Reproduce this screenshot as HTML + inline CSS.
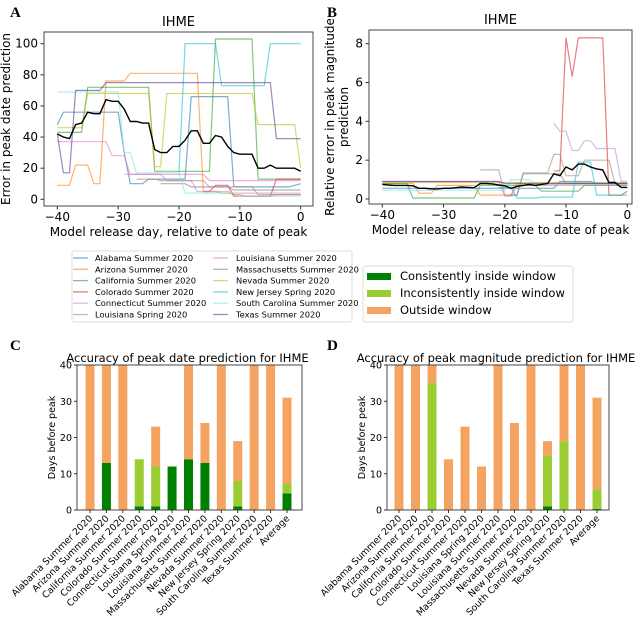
<!DOCTYPE html>
<html><head><meta charset="utf-8"><style>
body{margin:0;background:#fff;}
svg{display:block;font-family:"DejaVu Sans","Liberation Sans",sans-serif;}
</style></head><body>
<svg id="fig" width="643" height="621" viewBox="0 0 643 621" xmlns="http://www.w3.org/2000/svg">
<text x="10" y="17" font-family="Liberation Serif,serif" font-weight="bold" font-size="15">A</text>
<text x="327" y="17" font-family="Liberation Serif,serif" font-weight="bold" font-size="15">B</text>
<text x="10" y="350" font-family="Liberation Serif,serif" font-weight="bold" font-size="15">C</text>
<text x="327" y="350" font-family="Liberation Serif,serif" font-weight="bold" font-size="15">D</text>
<g id="gA"></g>
<g id="gB"></g>
<g id="legend1"></g>
<g id="legend2"></g>
<g id="gC"></g>
<g id="gD"></g>
</svg>
<script>
const days = [-40,-39,-38,-37,-36,-35,-34,-33,-32,-31,-30,-29,-28,-27,-26,-25,-24,-23,-22,-21,-20,-19,-18,-17,-16,-15,-14,-13,-12,-11,-10,-9,-8,-7,-6,-5,-4,-3,-2,-1,0];
const seriesNames = ["Alabama Summer 2020","Arizona Summer 2020","California Summer 2020","Colorado Summer 2020","Connecticut Summer 2020","Louisiana Spring 2020","Louisiana Summer 2020","Massachusetts Summer 2020","Nevada Summer 2020","New Jersey Spring 2020","South Carolina Summer 2020","Texas Summer 2020"];
const seriesColors = ["#1f77b4","#ff7f0e","#2ca02c","#d62728","#c58ccf","#a88a78","#e377c2","#7f7f7f","#bcbd22","#17becf","#7fe6e6","#5b3a8c"];
const N = null;
const alA = [48,56,56,56,56,56,56,56,56,56,56,30,10,10,10,13,13,13,13,13,13,13,66,66,66,66,66,66,66,8,8,8,8,8,8,8,8,8,8,9,10];
const azA = [9,9,9,22,22,22,10,10,76,76,76,76,81,81,81,81,81,81,81,81,81,81,81,81,5,5,5,4,4,3,3,2,2,2,2,2,3,3,3,3,3];
const caA = [43,43,43,43,43,72,72,72,72,72,72,72,72,72,72,72,18,18,18,18,18,18,18,18,18,18,103,103,103,103,103,103,103,13,13,13,13,13,13,13,13];
const coA = [N,N,N,N,N,N,N,N,N,N,N,N,N,N,N,N,N,N,N,N,N,N,N,N,5,5,9,9,9,2,2,2,2,2,2,2,13,13,13,13,13];
const ctA = [N,N,N,N,N,N,N,N,N,N,N,16,16,16,16,16,16,16,12,12,12,12,12,5,5,5,5,5,5,4,4,4,4,4,4,4,4,4,4,4,4];
const lspA = [N,N,N,N,N,N,N,N,N,N,N,N,N,13,13,13,13,12,12,12,12,12,12,12,12,8,8,8,8,8,8,8,8,3,3,3,3,3,3,3,3];
const lsuA = [37,37,37,37,37,37,37,37,37,28,28,28,16,16,16,16,16,16,16,16,16,16,16,16,16,12,12,12,12,12,12,12,12,12,12,12,12,12,12,12,12];
const maA = [N,N,N,N,N,N,N,N,N,N,N,N,N,N,N,N,N,10,10,10,10,10,8,8,8,8,8,8,8,6,6,6,6,6,6,6,6,6,6,6,6];
const nvA = [46,46,46,46,46,68,68,68,68,68,68,68,68,68,68,68,21,21,68,68,68,68,68,68,68,68,68,68,68,68,68,68,68,48,48,48,48,48,48,48,20];
const njA = [N,N,N,N,N,N,N,N,N,N,N,N,N,N,N,N,N,N,N,N,17,100,100,100,100,100,100,73,73,73,73,73,73,73,73,100,100,100,100,100,100];
const scA = [69,69,69,69,69,69,69,69,69,69,69,30,30,17,17,17,17,17,17,17,17,4,4,4,4,4,4,4,4,4,2,2,2,2,2,2,2,2,2,2,2];
const txA = [42,17,17,70,70,70,70,70,75,75,75,75,75,75,75,75,75,75,75,75,75,75,75,75,75,75,75,75,75,75,75,75,75,75,75,75,39,39,39,39,39];
const meanA = [42,40,39,48,49,56,55,55,64,63,63,58,50,50,49,49,32,30,30,34,34,38,44,44,36,36,41,40,34,30,29,29,29,20,20,22,20,20,20,20,18];

const alB = [0.55,0.55,0.55,0.55,0.55,0.55,0.55,0.55,0.55,0.55,0.55,0.55,0.55,0.55,0.55,0.55,0.55,0.55,0.55,0.55,0.55,0.55,0.55,0.55,0.55,0.55,0.55,0.55,0.55,0.9,0.9,0.9,0.9,0.9,0.9,0.8,0.8,0.8,0.8,0.8,0.8];
const azB = [0.8,0.8,0.8,0.8,0.8,0.8,0.3,0.3,0.3,0.7,0.7,0.7,0.7,0.7,0.7,0.7,0.2,0.2,0.2,0.2,0.2,0.2,0.8,0.8,0.8,0.8,0.8,0.8,0.8,0.8,0.8,0.8,0.8,0.8,0.8,0.8,0.8,0.8,0.8,0.8,0.8];
const caB = [0.8,0.8,0.8,0.8,0.8,0.05,0.05,0.05,0.05,0.05,0.05,0.05,0.05,0.05,0.05,0.05,0.7,0.7,0.7,0.7,0.7,0.7,0.7,0.7,0.7,0.7,0.4,0.4,0.4,0.4,0.4,0.4,0.4,0.7,0.7,0.7,0.7,0.7,0.7,0.7,0.7];
const coB = [N,N,N,N,N,N,N,N,N,N,N,N,N,N,N,N,N,N,N,N,N,N,N,N,N,N,N,N,1.45,1.45,8.3,6.3,8.3,8.3,8.3,8.3,8.3,0.2,0.2,0.2,0.4];
const ctB = [N,N,N,N,N,N,N,N,N,N,N,N,N,N,N,N,N,N,N,N,N,N,N,N,N,N,N,N,3.9,3.5,3.5,2.5,2.5,3.0,3.0,2.6,2.6,2.6,2.6,0.9,0.9];
const lspB = [N,N,N,N,N,N,N,N,N,N,N,N,N,N,N,N,1.5,1.5,1.5,1.5,0.2,0.2,0.2,1.35,1.35,1.35,1.35,1.35,2.3,2.3,1.2,1.2,1.2,2.0,2.0,2.0,2.0,2.0,0.8,0.8,0.8];
const lsuB = [0.9,0.9,0.9,0.9,0.9,0.9,0.9,0.9,0.9,0.9,0.9,0.9,0.9,0.9,0.9,0.9,0.9,0.9,0.9,0.9,0.15,0.15,0.7,0.7,0.7,0.7,0.7,0.7,0.7,0.7,0.7,0.7,0.7,0.7,0.7,0.7,0.7,0.7,0.7,0.7,0.7];
const maB = [N,N,N,N,N,N,N,N,N,N,N,N,N,N,N,N,N,N,N,N,N,0.2,0.2,1.3,1.3,1.3,1.3,1.3,1.3,1.3,0.8,0.8,0.8,0.8,0.8,0.8,0.8,0.8,0.8,0.8,0.8];
const nvB = [0.85,0.85,0.85,0.85,0.85,0.85,0.85,0.85,0.85,0.85,0.85,0.85,0.85,0.85,0.85,0.85,0.85,0.85,0.85,0.85,0.85,0.85,0.85,0.85,0.85,0.85,0.85,0.85,0.85,0.85,0.85,0.85,0.85,0.85,0.85,0.85,0.85,0.85,0.85,0.85,0.85];
const njB = [N,N,N,N,N,N,N,N,N,N,N,N,N,N,N,N,N,N,N,0.6,0.6,0.6,0.05,0.05,0.05,0.05,0.1,0.1,0.1,0.1,0.1,0.1,1.9,1.9,1.9,0.2,0.2,0.2,0.2,0.2,0.2];
const scB = [0.45,0.45,0.45,0.45,0.45,0.45,0.45,0.45,0.45,0.45,0.45,0.45,0.45,0.45,0.45,0.45,0.45,0.45,0.45,0.45,0.45,1.0,1.0,1.0,1.0,0.75,0.75,0.75,0.75,0.75,0.75,0.75,0.75,0.75,0.75,0.75,0.75,0.75,0.75,0.75,0.75];
const txB = [0.9,0.9,0.9,0.9,0.9,0.9,0.9,0.9,0.9,0.9,0.9,0.9,0.9,0.9,0.9,0.9,0.9,0.9,0.9,0.9,0.8,0.8,0.8,0.8,0.8,0.8,0.8,0.8,0.8,0.8,0.8,0.8,0.8,0.8,0.8,0.8,0.8,0.8,0.8,0.8,0.8];
const meanB = [0.75,0.72,0.7,0.7,0.7,0.68,0.55,0.55,0.52,0.52,0.55,0.55,0.58,0.62,0.6,0.58,0.8,0.8,0.78,0.72,0.68,0.55,0.65,0.7,0.75,0.7,0.75,0.8,1.3,1.2,1.65,1.5,1.8,1.8,1.65,1.55,1.5,0.85,0.85,0.6,0.6];

const xTicks = [-40,-30,-20,-10,0];
const yTicksA = [0,20,40,60,80,100];
const yTicksB = [0,2,4,6,8];

const barCats = ["Alabama Summer 2020","Arizona Summer 2020","California Summer 2020","Colorado Summer 2020","Connecticut Summer 2020","Louisiana Spring 2020","Louisiana Summer 2020","Massachusetts Summer 2020","Nevada Summer 2020","New Jersey Spring 2020","South Carolina Summer 2020","Texas Summer 2020","Average"];
const cCons = [0,13,0,1,1,12,14,13,0,1,0,0,4.6];
const cIncons = [0,0,0,13,11,0,0,0,0,7,0,0,2.7];
const cOutside = [40,27,40,0,11,0,26,11,40,11,40,40,23.7];
const dCons = [0,0,0,0,0,0,0,0,0,1,0,0,0.3];
const dIncons = [0,0,35,0,0,0,0,0,0,14,19,0,5.4];
const dOutside = [40,40,5,14,23,12,40,24,40,4,21,40,25.3];
const barTicks = [0,10,20,30,40];

const NS = "http://www.w3.org/2000/svg";
function mk(tag, attrs, parent){const e=document.createElementNS(NS,tag);for(const k in attrs)e.setAttribute(k,attrs[k]);parent.appendChild(e);return e;}

function linePanel(g, key, L, R, T, B, x0, x1, xd0, xd1, y0v, y0p, y1v, y1p, yTicks, data, mean, title, ylab1, ylab2){
  const xs = d => xd0 + (d - x0) * (xd1 - xd0) / (x1 - x0);
  const ys = v => y0p + (v - y0v) * (y1p - y0p) / (y1v - y0v);
  const t = mk("text",{x:(L+R)/2,y:T-6,"text-anchor":"middle","font-size":13},g); t.textContent=title;
   
  data.forEach((arr,si)=>{
    let d="", pen=false;
    arr.forEach((v,i)=>{ if(v===null){pen=false;return;} d+=(pen?"L":"M")+xs(days[i]).toFixed(1)+","+ys(v).toFixed(1); pen=true; });
    const p = mk("path",{d:d,fill:"none",stroke:seriesColors[si],"stroke-width":1.2,"stroke-opacity":0.6},g);
    
    
  });
  let d="";
  mean.forEach((v,i)=>{ d+=(i?"L":"M")+xs(days[i]).toFixed(1)+","+ys(v).toFixed(1); });
  const mp = mk("path",{d:d,fill:"none",stroke:"#000","stroke-width":1.4},g);
   
  const fr = mk("rect",{x:L,y:T,width:R-L,height:B-T,fill:"none",stroke:"#333","stroke-width":0.9},g);
   
  xTicks.forEach(tv=>{
    const x=xs(tv);
    mk("line",{x1:x,x2:x,y1:B,y2:B+3.5,stroke:"#333"},g);
    const tx=mk("text",{x:x,y:B+15,"text-anchor":"middle","font-size":12},g); tx.textContent=(tv<0?"\u2212"+(-tv):tv);
     
  });
  yTicks.forEach(tv=>{
    const y=ys(tv);
    mk("line",{x1:L-3.5,x2:L,y1:y,y2:y,stroke:"#333"},g);
    const tx=mk("text",{x:L-6,y:y+4,"text-anchor":"end","font-size":12},g); tx.textContent=tv;
     
  });
  const xl=mk("text",{x:(L+R)/2,y:B+30,"text-anchor":"middle","font-size":12},g); xl.textContent="Model release day, relative to date of peak";
   
  if(ylab2){
    const a=mk("text",{x:0,y:0,"text-anchor":"middle","font-size":12,transform:`translate(${L-35},${(T+B)/2}) rotate(-90)`},g); a.textContent=ylab1;
     
    const b=mk("text",{x:0,y:0,"text-anchor":"middle","font-size":12,transform:`translate(${L-21},${(T+B)/2}) rotate(-90)`},g); b.textContent=ylab2;
     
  } else {
    const a=mk("text",{x:0,y:0,"text-anchor":"middle","font-size":12,transform:`translate(${L-34},${(T+B)/2}) rotate(-90)`},g); a.textContent=ylab1;
     
  }
}

linePanel(document.getElementById("gA"),"panel-a",44,313,32,206,-40,0,57.3,300.7,0,199.3,100,43.7,yTicksA,
  [alA,azA,caA,coA,ctA,lspA,lsuA,maA,nvA,njA,scA,txA],meanA,"IHME","Error in peak date prediction",null);
linePanel(document.getElementById("gB"),"panel-b",369,632,30,204,-40,0,382.3,627.3,0,199,8,43.7,yTicksB,
  [alB,azB,caB,coB,ctB,lspB,lsuB,maB,nvB,njB,scB,txB],meanB,"IHME","Relative error in peak magnitude","prediction");

// legend 1
(function(){
  const g=document.getElementById("legend1");
  const bx=mk("rect",{x:72,y:251,width:280,height:71,rx:2,fill:"#fff",stroke:"#ddd"},g);
   
  seriesNames.forEach((n,i)=>{
    const col=Math.floor(i/6), row=i%6;
    const lx = col? 213:73, tx = col? 236:95, y = 258 + row*11.3;
    const l=mk("line",{x1:lx,x2:lx+15,y1:y,y2:y,stroke:seriesColors[i],"stroke-opacity":0.6,"stroke-width":1.3},g);
     
    const t=mk("text",{x:tx,y:y+3,"font-size":8.3},g); t.textContent=n;
     
  });
})();
// legend 2
const accLabels = ["Consistently inside window","Inconsistently inside window","Outside window"];
const accColors = ["#008000","#9acd32","#f4a460"];
(function(){
  const g=document.getElementById("legend2");
  const bx=mk("rect",{x:363,y:266,width:210,height:56,rx:2,fill:"#fff",stroke:"#ddd"},g);
   
  accLabels.forEach((n,i)=>{
    const y=276+i*17;
    const r=mk("rect",{x:367,y:y-3,width:24,height:7,fill:accColors[i]},g);
     
    const t=mk("text",{x:400,y:y+4,"font-size":11.5},g); t.textContent=n;
     
  });
})();

function barPanel(g,key,L,R,T,B,first,last,cons,incons,outside,title){
  const ys=v=>B-(v/40)*(B-T);
  const step=(last-first)/(barCats.length-1);
  const bw=9;
  const t=mk("text",{x:(L+R)/2-2,y:T-3,"text-anchor":"middle","font-size":11.5},g); t.textContent=title;
   
  barCats.forEach((c,i)=>{
    const cx=first+i*step;
    const parts=[cons[i],incons[i],outside[i]];
    let base=0;
    parts.forEach((v,j)=>{
      if(v>0){
        const r=mk("rect",{x:cx-bw/2,y:ys(base+v),width:bw,height:ys(base)-ys(base+v),fill:accColors[j]},g);
         
      }
      base+=v;
    });
    mk("line",{x1:cx,x2:cx,y1:B,y2:B+3,stroke:"#333"},g);
    const lt=mk("text",{x:0,y:0,"text-anchor":"end","font-size":9.3,transform:`translate(${cx+3},${B+9}) rotate(-45)`},g); lt.textContent=c;
     
  });
  const fr=mk("rect",{x:L,y:T,width:R-L,height:B-T,fill:"none",stroke:"#333","stroke-width":0.9},g);
   
  barTicks.forEach(tv=>{
    const y=ys(tv);
    mk("line",{x1:L-3,x2:L,y1:y,y2:y,stroke:"#333"},g);
    const tx=mk("text",{x:L-5,y:y+3.5,"text-anchor":"end","font-size":9.5},g); tx.textContent=tv;
     
  });
  const yl=mk("text",{x:0,y:0,"text-anchor":"middle","font-size":9.5,transform:`translate(${L-22},${(T+B)/2}) rotate(-90)`},g); yl.textContent="Days before peak";
   
}
barPanel(document.getElementById("gC"),"panel-c",77,302,365,510,90,287,cCons,cIncons,cOutside,"Accuracy of peak date prediction for IHME");
barPanel(document.getElementById("gD"),"panel-d",387,609,365,510,399,597,dCons,dIncons,dOutside,"Accuracy of peak magnitude prediction for IHME");
</script>
</body></html>
